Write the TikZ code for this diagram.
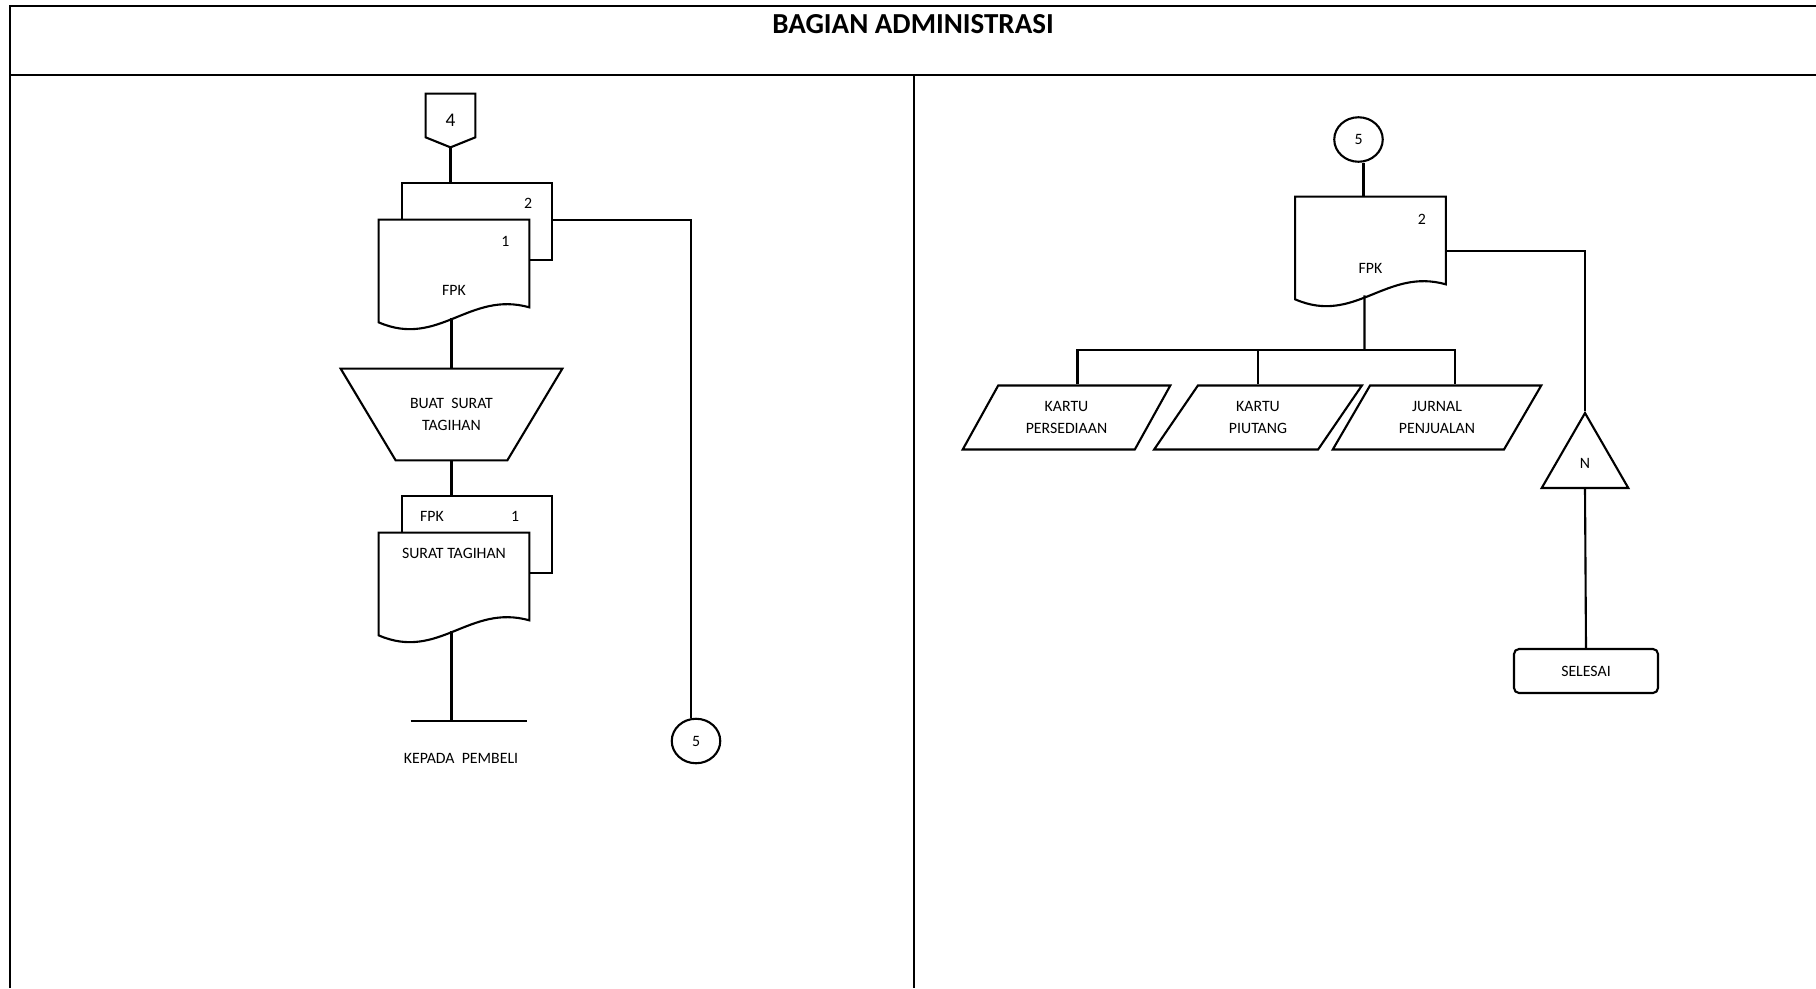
\documentclass[tikz,border=0pt]{standalone}
\usepackage{fontspec}
\setmainfont{Carlito}
\usetikzlibrary{shapes.geometric,calc}

% document symbol drawn over an empty node
\newcommand{\docshape}[1]{%
  \draw[shp, fill=white] ($(#1.south east)+(0,-11)$) -- (#1.north east) -- (#1.north west)
    -- ($(#1.south west)+(0,4)$) .. controls +(60,26) and +(-60,-17) .. ($(#1.south east)+(0,-11)$) -- cycle;}
% off-page connector drawn over an empty node
\newcommand{\offpage}[1]{%
  \draw[shp] (#1.north west) -- (#1.north east) -- ($(#1.south east)+(0,-10)$)
    -- (#1.south) -- ($(#1.south west)+(0,-10)$) -- cycle;}
% manual operation drawn over an empty node
\newcommand{\manualop}[1]{%
  \draw[shp] (#1.north west) -- (#1.north east) -- ($(#1.south east)+(-55,0)$)
    -- ($(#1.south west)+(55,0)$) -- cycle;}

\begin{document}
\begin{tikzpicture}[
    x=0.02cm, y=-0.02cm,
    shp/.style={draw, line width=1.2pt},
    line/.style={draw, line width=1.2pt},
    frame/.style={draw, line width=1.2pt},
    txt/.style={font=\fontsize{9}{12.5}\selectfont, inner sep=0pt, align=center},
    title/.style={font=\fontsize{16.5}{18}\selectfont\bfseries, inner sep=0pt},
    docback/.style={shp, fill=white, minimum width=3cm, minimum height=1.54cm, inner sep=0pt},
    docfront/.style={minimum width=3cm, minimum height=1.96cm, inner sep=0pt},
    offpage/.style={minimum width=0.98cm, minimum height=1.06cm, inner sep=0pt, font=\fontsize{11}{12}\selectfont},
    conn/.style={txt, shp, ellipse, minimum width=0.97cm, minimum height=0.89cm},
    manual/.style={txt, minimum width=4.42cm, minimum height=1.82cm},
    io/.style={txt, shp, trapezium, trapezium left angle=56.7, trapezium right angle=123.3,
        trapezium stretches=true, minimum width=4.18cm, minimum height=1.28cm},
    merge/.style={txt, shp, regular polygon, regular polygon sides=3, minimum size=2cm},
    term/.style={txt, shp, rectangle, rounded corners=0.1cm, minimum width=2.88cm, minimum height=0.88cm},
    bar/.style={minimum width=2.32cm, minimum height=0pt, inner sep=0pt}
]
    \useasboundingbox (0,0) rectangle (1816,988);

    % Frame and header
    \draw[frame] (10,988) -- (10,6) -- (1816,6);
    \draw[frame] (10,75) -- (1816,75);
    \draw[frame] (914,75) -- (914,988);
    \node[title, anchor=base] (judul) at (913,33) {BAGIAN ADMINISTRASI};

    % Left column
    \node[offpage] (off4) at (450.5,120.5) {4};
    \offpage{off4}

    \node[docback] (fpkAb) at (477,221.5) {};
    \node[docfront] (fpkA) at (454,269) {};
    \docshape{fpkA}
    \node[txt] (fpkAno2) at ($(fpkAb.north east)+(-25,21)$) {2};
    \node[txt] (fpkAno1) at ($(fpkA.north east)+(-24,22)$) {1};
    \node[txt] (fpkAlbl) at ($(fpkA.center)+(0,21)$) {FPK};

    \node[manual] (buat) at (451.5,414.5) {BUAT~ SURAT\\TAGIHAN};
    \manualop{buat}

    \node[docback] (tagB) at (477,534.5) {};
    \node[docfront] (tagA) at (454,582) {};
    \docshape{tagA}
    \node[txt] (tagBlbl) at ($(tagB.north west)+(31,21)$) {FPK};
    \node[txt] (tagBno) at ($(tagB.north east)+(-38,21)$) {1};
    \node[txt] (tagAlbl) at ($(tagA.north)+(0,21)$) {SURAT TAGIHAN};

    \node[bar] (kirim) at (469,721) {};
    \draw[line] (kirim.west) -- (kirim.east);
    \node[txt] (pembeli) at (461,758) {KEPADA~ PEMBELI};

    \node[conn] (con5a) at (696,741) {5};

    % Arrows: left column
    \draw[line] (off4.south) -- (off4.south |- fpkAb.north);
    \draw[line] (buat.north) -- (buat.north |- fpkA.south);
    \draw[line] (buat.south) -- (buat.south |- tagB.north);
    \draw[line] (buat.south |- tagA.south) -- (buat.south |- kirim.center);
    \draw[line] (fpkAb.east |- fpkA.north) -| ([xshift=-0.1cm]con5a.north);

    % Right column
    \node[conn] (con5b) at (1358.5,139.5) {5};
    \node[docfront] (fpkC) at (1370.5,246) {};
    \docshape{fpkC}
    \node[txt] (fpkCno) at ($(fpkC.north east)+(-24,23)$) {2};
    \node[txt] (fpkClbl) at ($(fpkC.center)+(0,22)$) {FPK};

    \foreach \nm/\x/\lbl in {persediaan/1066.5/{KARTU\\PERSEDIAAN}, piutang/1258/{KARTU\\PIUTANG}, jurnal/1437/{JURNAL\\PENJUALAN}}
        \node[io] (\nm) at (\x,417.5) {\lbl};

    \node[merge] (arsipN) at (1585,463) {N};
    \node[term] (selesai) at (1586,671) {SELESAI};

    % Arrows: right column
    \draw[line] ([xshift=0.1cm]con5b.south) -- ([xshift=0.1cm]con5b.south |- fpkC.north);
    \coordinate (bus) at ($(fpkC.south)+(-6,55)$);
    \draw[line] ([xshift=-0.12cm]fpkC.south) -- (bus);
    \draw[line] ([xshift=0.22cm]persediaan.north) |- (bus) -| ([xshift=0.36cm]jurnal.north);
    \draw[line] (piutang.north) -- (piutang.north |- bus);
    \draw[line] ($(fpkC.north east)+(0,54)$) -| (arsipN.north);
    \draw[line] (arsipN.south) -- (selesai.north);
\end{tikzpicture}
\end{document}
